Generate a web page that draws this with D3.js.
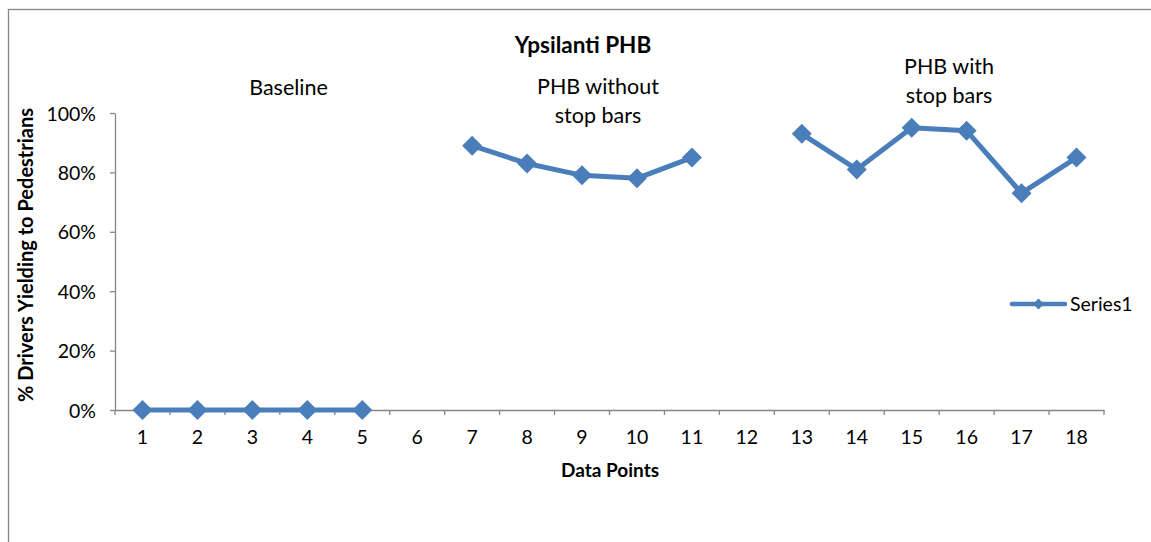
<!DOCTYPE html>
<html>
<head>
<meta charset="utf-8">
<script src="https://cdn.jsdelivr.net/npm/d3@7"></script>
<style>
    body { margin: 0; background: #fff; }
    svg text { font-family: Lato, "Open Sans", sans-serif; fill: #000; }
    .axis path, .axis line { stroke: #868686; stroke-width: 1.3; }
</style>
</head>
<body>
<div id="chart"></div>
<script>

// Chart data.
const categories = ["1", "2", "3", "4", "5", "6", "7", "8", "9",
                    "10", "11", "12", "13", "14", "15", "16", "17", "18"];
const yieldingPct = [0, 0, 0, 0, 0, null, 89, 83, 79, 78, 85, null,
                     93, 81, 95, 94, 73, 85];
const yTicks = [0, 20, 40, 60, 80, 100];
const phaseNames = [["Baseline"], ["PHB without", "stop bars"], ["PHB with", "stop bars"]];
const seriesName = "Series1";
const chartTitle = "Ypsilanti PHB";
const xTitle = "Data Points";
const yTitle = "% Drivers Yielding to Pedestrians";

const width = 1151, height = 542;
const margin = {top: 113, right: 47, bottom: 132, left: 115};
const blue = "#4a7ebb";

let svg = d3.select("#chart")
    .append("svg")
        .attr("width", width)
        .attr("height", height);

// Outer chart frame (runs off the right and bottom of the window).
svg.append("rect")
    .attr("x", 8.5).attr("y", 9.5)
    .attr("width", 1300).attr("height", 800)
    .attr("fill", "none")
    .attr("stroke", "#868686")
    .attr("stroke-width", 1.3);

let x = d3.scaleBand()
    .domain(categories)
    .range([margin.left, width - margin.right])
    .padding(0);

let y = d3.scaleLinear()
    .domain([0, 100])
    .range([height - margin.bottom, margin.top]);

let points = categories.map((c, i) => ({cat: c, value: yieldingPct[i]}));
let cx = d => x(d.cat) + x.bandwidth() / 2;

// Y axis
let yAxis = svg.append("g")
    .attr("class", "axis")
    .attr("transform", "translate(" + margin.left + ",0)")
    .call(d3.axisLeft(y)
        .tickValues(yTicks)
        .tickSize(5)
        .tickSizeOuter(0)
        .tickPadding(14)
        .tickFormat(d => d + "%"));
yAxis.selectAll("text").attr("font-size", 19.5).attr("dy", "0.36em");

// X axis: labels at band centres, tick marks at band edges
let y0 = y(0);
let xAxis = svg.append("g")
    .attr("class", "axis")
    .attr("transform", "translate(0," + y0 + ")")
    .call(d3.axisBottom(x).tickSize(0).tickSizeOuter(0).tickPadding(0));
xAxis.selectAll("text").attr("font-size", 19.5).attr("dy", null).attr("y", 34);

let edges = categories.map(c => x(c)).concat([x.range()[1]]);
xAxis.selectAll("line.edge")
    .data(edges)
    .enter().append("line")
        .attr("class", "edge")
        .attr("x1", d => d).attr("x2", d => d)
        .attr("y1", 0).attr("y2", 5);

// Series line with gaps for missing values
let line = d3.line()
    .defined(d => d.value !== null)
    .x(cx)
    .y(d => y(d.value));

svg.append("path")
    .datum(points)
    .attr("fill", "none")
    .attr("stroke", blue)
    .attr("stroke-width", 5)
    .attr("stroke-linejoin", "round")
    .attr("d", line);

let diamond = r => "M0," + (-r) + "L" + r + ",0L0," + r + "L" + (-r) + ",0Z";

svg.append("g")
    .selectAll("path")
    .data(points.filter(d => d.value !== null))
    .enter().append("path")
        .attr("transform", d => "translate(" + cx(d) + "," + y(d.value) + ")")
        .attr("d", diamond(10))
        .attr("fill", blue);

// Titles
svg.append("text")
    .attr("x", 583).attr("y", 53)
    .attr("text-anchor", "middle")
    .attr("font-size", 22.5)
    .attr("font-weight", "bold")
    .text(chartTitle);

svg.append("text")
    .attr("x", 610).attr("y", 477)
    .attr("text-anchor", "middle")
    .attr("font-size", 19)
    .attr("font-weight", "bold")
    .text(xTitle);

svg.append("text")
    .attr("transform", "translate(33,255) rotate(-90)")
    .attr("text-anchor", "middle")
    .attr("font-size", 20)
    .attr("font-weight", "bold")
    .text(yTitle);

// Phase annotations
let phasePos = [{x: 288.5, y: 95}, {x: 598, y: 94}, {x: 949, y: 74}];
phaseNames.forEach((lines, i) => {
    let t = svg.append("text")
        .attr("text-anchor", "middle")
        .attr("font-size", 21.5);
    lines.forEach((s, j) => {
        t.append("tspan")
            .attr("x", phasePos[i].x)
            .attr("y", phasePos[i].y + j * 28.5)
            .text(s);
    });
});

// Legend
let legend = svg.append("g").attr("transform", "translate(1012,304)");
legend.append("line")
    .attr("x1", 0).attr("x2", 53)
    .attr("stroke", blue)
    .attr("stroke-width", 4.5)
    .attr("stroke-linecap", "round");
legend.append("path")
    .attr("transform", "translate(26.5,0)")
    .attr("d", diamond(5.5))
    .attr("fill", blue);
legend.append("text")
    .attr("x", 58).attr("y", 0)
    .attr("dy", "0.36em")
    .attr("font-size", 19.5)
    .text(seriesName);

</script>
</body>
</html>
